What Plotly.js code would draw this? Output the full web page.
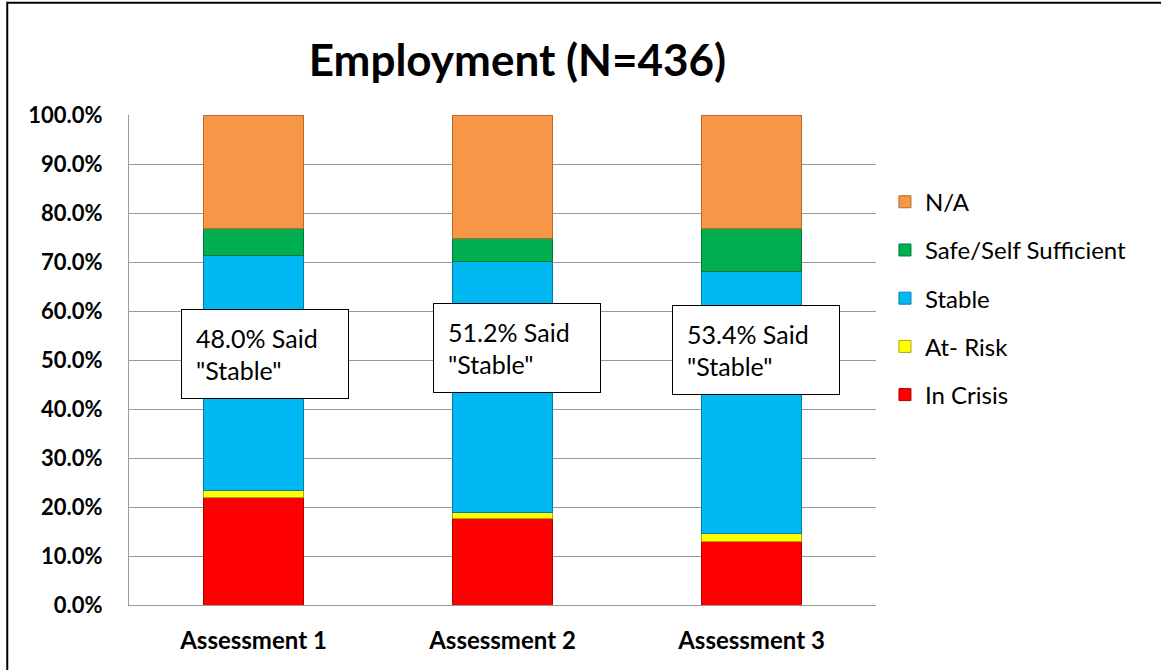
<!DOCTYPE html>
<html>
<head>
<meta charset="utf-8">
<script src="https://cdn.plot.ly/plotly-3.0.1.min.js"></script>
<style>
  html, body { margin: 0; padding: 0; background: #fff; }
  #gd { width: 1161px; height: 670px; }
</style>
</head>
<body>
<div id="gd"></div>
<script>
// categories and series (percent of N=436)
const assessments = ['Assessment 1', 'Assessment 2', 'Assessment 3'];
const inCrisis = [22.0, 17.6, 13.0];
const atRisk = [1.3, 1.3, 1.6];
const stable = [48.0, 51.2, 53.4];
const safeSelf = [5.6, 4.6, 8.9];
const notApplicable = [23.1, 25.3, 23.1];
const stableLabels = ['48.0% Said<br>"Stable"', '51.2% Said<br>"Stable"', '53.4% Said<br>"Stable"'];

const FONT = 'Lato, "Open Sans", sans-serif';

function series(name, values, color, edge, rank) {
  return {
    type: 'bar',
    name: name,
    x: assessments,
    y: values,
    legendgroup: name,
    legendrank: rank,
    marker: { color: color, line: { color: edge, width: 1 } },
    hoverinfo: 'name+y'
  };
}

const data = [
  series('In Crisis', inCrisis, '#FF0000', '#B00000', 5),
  series('At- Risk', atRisk, '#FFFF00', '#A8A800', 4),
  series('Stable', stable, '#00B9F2', '#0080A8', 3),
  series('Safe/Self Sufficient', safeSelf, '#00B050', '#007A38', 2),
  series('N/A', notApplicable, '#F79646', '#B86A2C', 1)
];

// text boxes over each bar
const boxShift = [11, 14, 4];
const boxY = [51.3, 52.4, 52.0];
const annotations = assessments.map((a, i) => ({
  x: a, y: boxY[i], xref: 'x', yref: 'y',
  xshift: boxShift[i],
  text: stableLabels[i],
  showarrow: false,
  align: 'left',
  width: 138, height: 60,
  borderpad: 14,
  bgcolor: '#FFFFFF',
  bordercolor: '#000000',
  borderwidth: 1,
  font: { family: FONT, size: 25, color: '#000' }
}));

const layout = {
  width: 1161,
  height: 670,
  margin: { l: 129, r: 285, t: 115, b: 65 },
  paper_bgcolor: '#FFFFFF',
  plot_bgcolor: '#FFFFFF',
  barmode: 'stack',
  bargap: 0.6,
  title: {
    text: '<b>Employment (N=436)</b>',
    x: 0.52, xref: 'paper', xanchor: 'center',
    y: 0.91, yref: 'container', yanchor: 'middle',
    font: { family: FONT, size: 44, color: '#000' }
  },
  xaxis: {
    type: 'category',
    showline: true, linecolor: '#9A9A9A', linewidth: 1,
    showgrid: false,
    ticks: '',
    tickfont: { family: FONT, size: 24, color: '#000', weight: 'bold' },
    ticklabelstandoff: 14
  },
  yaxis: {
    range: [0, 100],
    dtick: 10,
    tickformat: '.1f',
    ticksuffix: '%',
    showline: true, linecolor: '#9A9A9A', linewidth: 1,
    showgrid: true, gridcolor: '#9A9A9A', gridwidth: 1,
    zeroline: false,
    ticks: '',
    tickfont: { family: FONT, size: 22, color: '#000', weight: 'bold' },
    ticklabelstandoff: 21
  },
  legend: {
    x: 1.012, xanchor: 'left',
    y: 0.868, yanchor: 'top',
    traceorder: 'grouped',
    tracegroupgap: 14,
    itemwidth: 30,
    font: { family: FONT, size: 24, color: '#000' },
    bgcolor: 'rgba(0,0,0,0)'
  },
  annotations: annotations,
  shapes: [{
    type: 'rect', xref: 'paper', yref: 'paper',
    x0: -0.163, x1: 2, y0: -1, y1: 1.229,
    line: { color: '#000', width: 2 },
    fillcolor: 'rgba(0,0,0,0)',
    layer: 'above'
  }]
};

Plotly.newPlot('gd', data, layout, { displayModeBar: false, staticPlot: true });
</script>
</body>
</html>
